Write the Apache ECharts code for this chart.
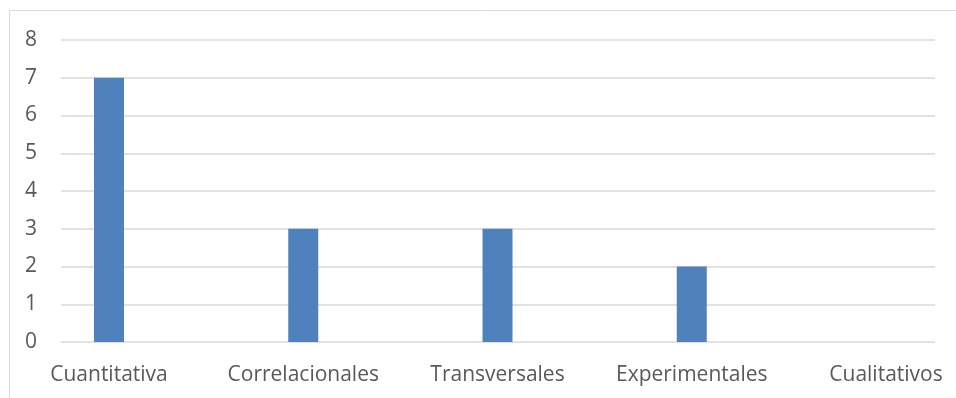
<!DOCTYPE html>
<html>
<head>
<meta charset="utf-8">
<script src="https://cdn.jsdelivr.net/npm/echarts@6/dist/echarts.min.js"></script>
<style>
  html, body { margin: 0; padding: 0; background: #ffffff; }
  #chart { width: 956px; height: 398px; }
</style>
</head>
<body>
<div id="chart"></div>
<script>
// Study types and how many studies of each kind
const categories = ['Cuantitativa', 'Correlacionales', 'Transversales', 'Experimentales', 'Cualitativos'];
const counts = [7, 3, 3, 2, 0];
const yTicks = [0, 1, 2, 3, 4, 5, 6, 7, 8];

const textColor = '#595959';
const gridColor = '#d9d9d9';
const barColor = '#4f81bd';
const font = '"Open Sans", "Liberation Sans", sans-serif';

const chart = echarts.init(document.getElementById('chart'), null, { renderer: 'canvas' });

chart.setOption({
  animation: false,
  backgroundColor: '#ffffff',
  graphic: [{
    type: 'rect',
    shape: { x: 9.5, y: 10.5, width: 1200, height: 1200 },
    style: { fill: 'none', stroke: gridColor, lineWidth: 1 },
    silent: true
  }],
  grid: [
    // value axis and horizontal gridlines
    { left: 61, right: 21, top: 40, bottom: 56, containLabel: false },
    // category positions used for the bars and their labels
    { left: 109, right: 70, top: 40, bottom: 56, containLabel: false }
  ],
  xAxis: [
    {
      gridIndex: 0, type: 'value', min: 0, max: 1,
      show: false
    },
    {
      gridIndex: 1, type: 'category', data: categories,
      boundaryGap: false,
      axisLine: { show: false },
      axisTick: { show: false },
      axisLabel: {
        color: textColor, fontFamily: font, fontSize: 21, margin: 23,
        interval: 0
      }
    }
  ],
  yAxis: [
    {
      gridIndex: 0, type: 'value',
      min: yTicks[0], max: yTicks[yTicks.length - 1], interval: 1,
      axisLine: { show: false },
      axisTick: { show: false },
      axisLabel: { color: textColor, fontFamily: font, fontSize: 21, margin: 24, padding: [2, 0, 0, 0] },
      splitLine: { show: true, lineStyle: { color: gridColor, width: 1.5 } }
    },
    {
      gridIndex: 1, type: 'value',
      min: yTicks[0], max: yTicks[yTicks.length - 1], interval: 1,
      show: false
    }
  ],
  series: [{
    type: 'bar',
    xAxisIndex: 1,
    yAxisIndex: 1,
    data: counts,
    barWidth: 30,
    itemStyle: { color: barColor },
    z: 3
  }]
});
</script>
</body>
</html>
